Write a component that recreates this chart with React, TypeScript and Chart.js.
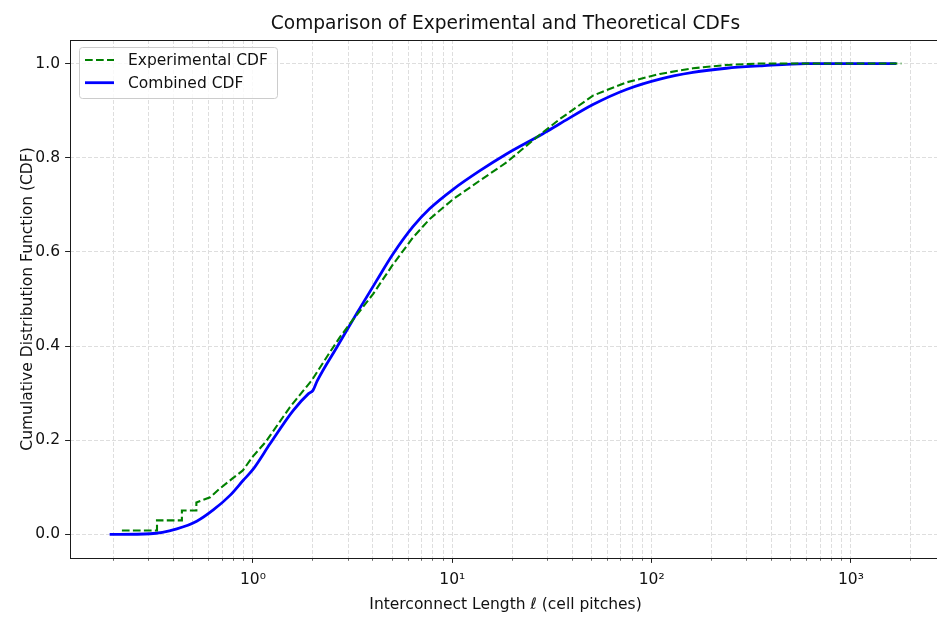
import React, { useEffect, useRef } from 'react';
import { Chart, registerables } from 'chart.js';

Chart.register(...registerables);

// Empirical CDF of measured interconnect lengths (cell pitches)
const experimentalX = [0.22, 0.33, 0.33, 0.44, 0.44, 0.52, 0.52, 0.61, 0.68, 0.79, 0.89, 1.0, 1.16, 1.53, 1.97, 2.43, 2.73, 3.06, 4.01, 4.33, 5.05, 6.36, 7.71, 10.1, 13.7, 18.7, 26.4, 34.6, 50.8, 74.7, 110, 161, 237, 348, 1790];
const experimentalY = [0.0085, 0.0085, 0.03, 0.03, 0.051, 0.051, 0.068, 0.079, 0.097, 0.119, 0.136, 0.166, 0.197, 0.27, 0.327, 0.387, 0.419, 0.447, 0.511, 0.532, 0.574, 0.631, 0.67, 0.712, 0.751, 0.79, 0.843, 0.882, 0.932, 0.96, 0.978, 0.99, 0.997, 1.0, 1.0];

// Combined theoretical CDF (piecewise model, breakpoint at l = 2)
const combinedX = [0.191, 0.305, 0.415, 0.522, 0.632, 0.767, 0.894, 1.0, 1.22, 1.59, 1.9, 2.0, 2.1, 2.63, 3.31, 4.17, 5.05, 6.36, 7.71, 10.1, 13.7, 18.7, 28.5, 34.6, 50.8, 74.7, 110, 161, 237, 348, 596, 1690];
const combinedY = [0.0, 0.0015, 0.012, 0.028, 0.052, 0.083, 0.115, 0.138, 0.193, 0.263, 0.299, 0.306, 0.326, 0.397, 0.469, 0.539, 0.596, 0.654, 0.692, 0.733, 0.772, 0.808, 0.851, 0.872, 0.913, 0.945, 0.967, 0.981, 0.99, 0.995, 1.0, 1.0];

const yTickValues = [0, 0.2, 0.4, 0.6, 0.8, 1.0];
const xDecades = [-1, 0, 1, 2, 3];
const xMajorLabels: Record<number, string> = { 0: '10\u2070', 1: '10\u00B9', 2: '10\u00B2', 3: '10\u00B3' };
const xLimits = [0.1208, 2829];
const yLimits = [-0.05, 1.05];

const FONT = 'DejaVu Sans';
const LABEL_SIZE = 15.5;
const TITLE_SIZE = 18.6;
const TEXT = '#111111';
const GREEN = '#008000';
const BLUE = '#0000ff';
const GREEN_DASH = [7.7, 3.3];

const isDecade = (v: number) => Math.abs(Math.log10(v) - Math.round(Math.log10(v))) < 1e-9;

const align = (p: number) => Math.round(p - 0.5) + 0.5;

const framePlugin = {
  id: 'frame',
  afterDatasetsDraw(chart: any) {
    const { ctx, chartArea: a, scales } = chart;
    const x = scales.x;
    const y = scales.y;
    ctx.save();

    // tick marks (major / minor)
    for (const t of x.ticks) {
      const px = align(x.getPixelForValue(t.value));
      const major = isDecade(t.value);
      ctx.strokeStyle = major ? '#222' : '#444';
      ctx.lineWidth = major ? 1 : 0.8;
      ctx.beginPath();
      ctx.moveTo(px, a.bottom);
      ctx.lineTo(px, a.bottom + (major ? 4.9 : 2.8));
      ctx.stroke();
    }
    for (const t of y.ticks) {
      const py = align(y.getPixelForValue(t.value));
      ctx.strokeStyle = '#222';
      ctx.lineWidth = 1;
      ctx.beginPath();
      ctx.moveTo(a.left - 4.9, py);
      ctx.lineTo(a.left, py);
      ctx.stroke();
    }

    // axes frame
    ctx.strokeStyle = '#1a1a1a';
    ctx.lineWidth = 1;
    ctx.strokeRect(align(a.left), align(a.top), Math.round(a.right - a.left), Math.round(a.bottom - a.top));

    // title
    ctx.fillStyle = TEXT;
    ctx.font = `${TITLE_SIZE}px "${FONT}"`;
    ctx.textAlign = 'center';
    ctx.textBaseline = 'alphabetic';
    ctx.fillText('Comparison of Experimental and Theoretical CDFs', (a.left + a.right) / 2, 28.5);

    // legend
    const lx = a.left + 9;
    const ly = a.top + 7;
    const lw = 198;
    const lh = 51;
    ctx.beginPath();
    ctx.roundRect(lx + 0.5, ly + 0.5, lw, lh, 3);
    ctx.fillStyle = 'rgba(255,255,255,0.8)';
    ctx.fill();
    ctx.strokeStyle = '#cccccc';
    ctx.lineWidth = 1;
    ctx.stroke();

    const row1 = ly + 13;
    const row2 = ly + 35.7;
    ctx.lineCap = 'butt';
    ctx.strokeStyle = GREEN;
    ctx.lineWidth = 2.1;
    ctx.setLineDash(GREEN_DASH);
    ctx.beginPath();
    ctx.moveTo(lx + 6, row1);
    ctx.lineTo(lx + 35, row1);
    ctx.stroke();
    ctx.setLineDash([]);
    ctx.strokeStyle = BLUE;
    ctx.lineWidth = 2.8;
    ctx.beginPath();
    ctx.moveTo(lx + 6, row2);
    ctx.lineTo(lx + 35, row2);
    ctx.stroke();

    ctx.fillStyle = TEXT;
    ctx.font = `${LABEL_SIZE}px "${FONT}"`;
    ctx.textAlign = 'left';
    ctx.fillText('Experimental CDF', lx + 49, row1 + 5.2);
    ctx.fillText('Combined CDF', lx + 49, row2 + 5.2);

    ctx.restore();
  },
};

export default function App() {
  const canvasRef = useRef<HTMLCanvasElement | null>(null);

  useEffect(() => {
    const canvas = canvasRef.current;
    if (!canvas) return;

    const xTickValues: number[] = [];
    for (const d of xDecades) {
      for (let m = 1; m <= 9; m++) {
        const v = m * Math.pow(10, d);
        if (v >= xLimits[0] && v <= xLimits[1]) xTickValues.push(v);
      }
    }

    const chart = new Chart(canvas, {
      type: 'line',
      data: {
        datasets: [
          {
            label: 'Experimental CDF',
            data: experimentalX.map((v, i) => ({ x: v, y: experimentalY[i] })),
            borderColor: GREEN,
            borderWidth: 2.1,
            borderDash: GREEN_DASH,
            pointRadius: 0,
            tension: 0,
            fill: false,
          },
          {
            label: 'Combined CDF',
            data: combinedX.map((v, i) => ({ x: v, y: combinedY[i] })),
            borderColor: BLUE,
            borderWidth: 2.8,
            borderJoinStyle: 'round',
            pointRadius: 0,
            cubicInterpolationMode: 'monotone',
            fill: false,
          },
        ],
      },
      options: {
        responsive: false,
        animation: false,
        devicePixelRatio: 1,
        layout: { padding: { top: 40, right: 1, left: 0, bottom: 0 } },
        plugins: {
          legend: { display: false },
          title: { display: false },
          tooltip: { enabled: false },
        },
        scales: {
          x: {
            type: 'logarithmic',
            min: xLimits[0],
            max: xLimits[1],
            afterBuildTicks: (axis: any) => {
              axis.ticks = xTickValues.map((v) => ({ value: v }));
            },
            afterFit: (axis: any) => {
              axis.height = 61;
            },
            ticks: {
              autoSkip: false,
              maxRotation: 0,
              minRotation: 0,
              padding: 12.5,
              color: TEXT,
              font: { family: FONT, size: LABEL_SIZE },
              callback: (_v: any, i: number, ticks: any[]) => {
                const v = ticks[i].value;
                if (!isDecade(v)) return '';
                return xMajorLabels[Math.round(Math.log10(v))] ?? '';
              },
            },
            grid: { color: '#dedede', lineWidth: 1, drawTicks: false },
            border: { display: false, dash: [4, 2] },
            title: {
              display: true,
              text: 'Interconnect Length \u2113 (cell pitches)',
              color: TEXT,
              font: { family: FONT, size: LABEL_SIZE },
              padding: { top: 0, bottom: 5.1 },
            },
          },
          y: {
            type: 'linear',
            min: yLimits[0],
            max: yLimits[1],
            afterBuildTicks: (axis: any) => {
              axis.ticks = yTickValues.map((v) => ({ value: v }));
            },
            afterFit: (axis: any) => {
              axis.width = 70;
            },
            ticks: {
              padding: 10,
              color: TEXT,
              font: { family: FONT, size: LABEL_SIZE },
              callback: (v: any) => Number(v).toFixed(1),
            },
            grid: { color: '#dedede', lineWidth: 1, drawTicks: false },
            border: { display: false, dash: [4, 2] },
            title: {
              display: true,
              text: 'Cumulative Distribution Function (CDF)',
              color: TEXT,
              font: { family: FONT, size: LABEL_SIZE },
              padding: { top: 18.6, bottom: 0 },
            },
          },
        },
      },
      plugins: [framePlugin],
    } as any);

    return () => chart.destroy();
  }, []);

  return (
    <div
      style={{
        position: 'absolute',
        left: 0,
        top: 0,
        width: 937,
        height: 619,
        overflow: 'hidden',
        background: '#ffffff',
      }}
    >
      <canvas ref={canvasRef} width={942} height={619} style={{ display: 'block', width: 942, height: 619 }} />
    </div>
  );
}
